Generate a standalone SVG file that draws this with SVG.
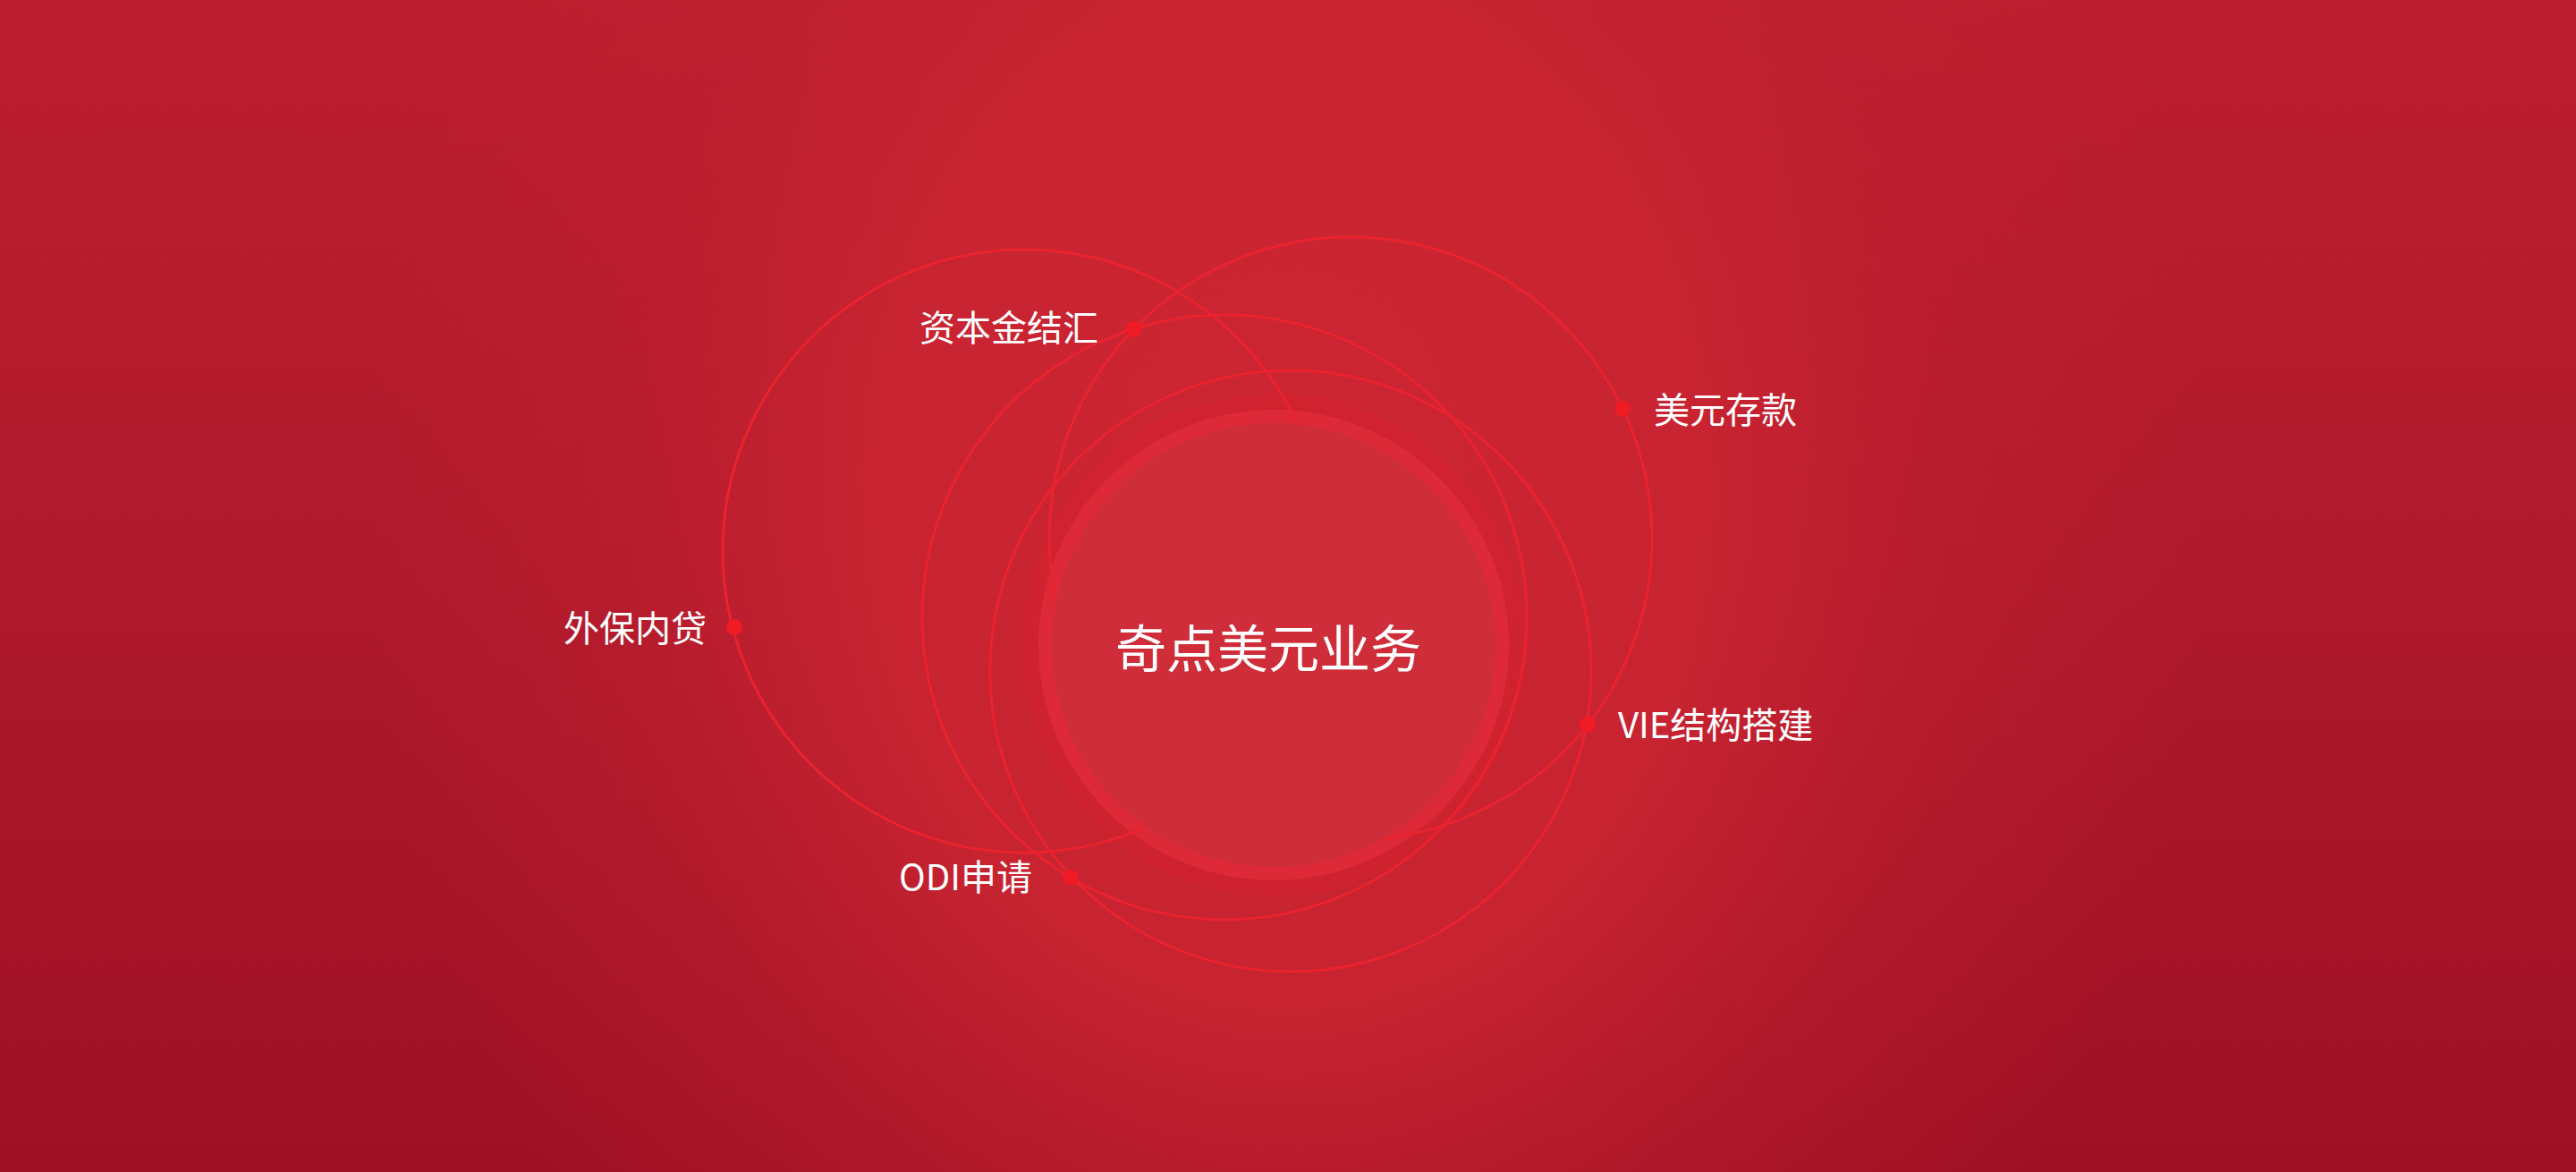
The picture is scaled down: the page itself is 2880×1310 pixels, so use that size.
<svg xmlns="http://www.w3.org/2000/svg" width="2880" height="1310" viewBox="0 0 2880 1310">
  <defs>
    <linearGradient id="bgLin" x1="0" y1="0" x2="0" y2="1">
      <stop offset="0" stop-color="#bd1f2f"/>
      <stop offset="0.5" stop-color="#ae192b"/>
      <stop offset="1" stop-color="#9f1024"/>
    </linearGradient>
    <radialGradient id="bgRad" gradientUnits="userSpaceOnUse" cx="1440" cy="560" r="1150" gradientTransform="translate(1440 560) scale(0.9 1.1) translate(-1440 -560)">
      <stop offset="0" stop-color="#cd2533" stop-opacity="1"/>
      <stop offset="0.45" stop-color="#c92431" stop-opacity="0.95"/>
      <stop offset="0.72" stop-color="#c22130" stop-opacity="0.4"/>
      <stop offset="1" stop-color="#c22130" stop-opacity="0"/>
    </radialGradient>
    <style>
      .orbit { fill: none; stroke: #e9232f; stroke-width: 3; }
      .dot { fill: #ef1b25; }
      .label { fill: #ffffff; font-family: "Noto Sans CJK SC", "Noto Sans", sans-serif; font-size: 40px; }
      .title { fill: #ffffff; font-family: "Noto Sans CJK SC", "Noto Sans", sans-serif; font-size: 57px; text-anchor: middle; }
    </style>
  </defs>

  <rect x="0" y="0" width="2880" height="1310" fill="url(#bgLin)"/>
  <rect x="0" y="0" width="2880" height="1310" fill="url(#bgRad)"/>

  <g id="halo">
    <circle cx="1424" cy="721" r="281" fill="#d4212f" fill-opacity="0.6"/>
    <circle cx="1424" cy="721" r="263" fill="#de2a38"/>
  </g>

  <g id="connectors">
    <circle class="orbit" cx="1145" cy="616" r="337"/>
    <circle class="orbit" cx="1369" cy="690" r="338"/>
    <circle class="orbit" cx="1443" cy="750" r="336"/>
    <circle class="orbit" cx="1510" cy="602" r="337"/>
  </g>

  <g id="center-node">
    <circle cx="1424" cy="721" r="248" fill="#cf2d3a"/>
    <text class="title" x="1418" y="746">奇点美元业务</text>
  </g>

  <g id="node-zibenjin">
    <circle class="dot" cx="1267" cy="368" r="9"/>
    <text class="label" x="1028" y="381">资本金结汇</text>
  </g>

  <g id="node-meiyuancunkuan">
    <circle class="dot" cx="1814" cy="457" r="9"/>
    <text class="label" x="1849" y="473">美元存款</text>
  </g>

  <g id="node-waibaoneidai">
    <circle class="dot" cx="821" cy="701" r="9"/>
    <text class="label" x="630" y="717">外保内贷</text>
  </g>

  <g id="node-vie">
    <circle class="dot" cx="1775" cy="810" r="9"/>
    <text class="label" x="1809" y="825">VIE结构搭建</text>
  </g>

  <g id="node-odi">
    <circle class="dot" cx="1197" cy="981" r="9"/>
    <text class="label" x="1005" y="995">ODI申请</text>
  </g>
</svg>
